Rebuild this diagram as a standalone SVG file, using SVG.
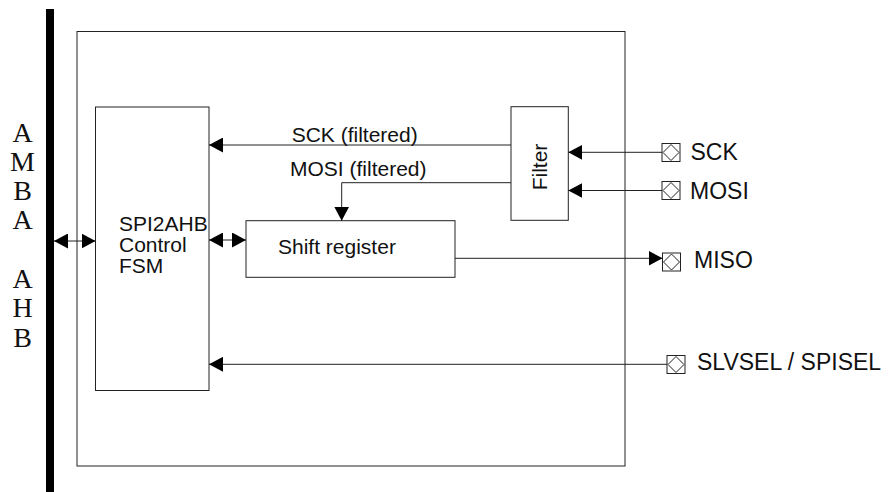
<svg xmlns="http://www.w3.org/2000/svg" width="890" height="492" viewBox="0 0 890 492">
<style>
.box{fill:#fff;stroke:#222;stroke-width:1}
.ln{fill:none;stroke:#222;stroke-width:1}
.t{font-family:"Liberation Sans",Arial,Helvetica,sans-serif;font-size:21px;fill:#111}
.tr{font-family:"Liberation Sans",Arial,Helvetica,sans-serif;font-size:23px;fill:#111}
.ts{font-family:"Liberation Serif","Times New Roman",serif;font-size:28px;fill:#111;text-anchor:middle}
.pad{fill:#fff;stroke:#222;stroke-width:1}
</style>
<defs>
<marker id="ah" markerUnits="userSpaceOnUse" markerWidth="14" markerHeight="15" viewBox="0 0 14 15" refX="14" refY="7.5" orient="auto-start-reverse">
<path d="M0,0 L14,7.5 L0,15 z" fill="#000"/>
</marker>
<g id="padshape">
<rect class="pad" x="0" y="0" width="18" height="18"/>
<path class="ln" d="M9,1 L17,9 L9,17 L1,9 z"/>
</g>
</defs>
<rect width="890" height="492" fill="#fff"/>

<g id="amba-bus">
<rect x="46" y="9" width="8" height="483" fill="#000"/>
<text class="ts" x="22.5" y="141.7">A</text>
<text class="ts" x="22.5" y="170.7">M</text>
<text class="ts" x="22.5" y="200">B</text>
<text class="ts" x="22.5" y="229.3">A</text>
<text class="ts" x="22.5" y="288.3">A</text>
<text class="ts" x="22.5" y="317.3">H</text>
<text class="ts" x="22.5" y="346.7">B</text>
</g>

<g id="core">
<rect class="box" x="77" y="31.5" width="548" height="434.5"/>
</g>

<g id="fsm">
<rect class="box" x="95.5" y="107" width="113.5" height="283.5"/>
<text class="t" x="119" y="231">SPI2AHB</text>
<text class="t" x="119" y="252">Control</text>
<text class="t" x="119" y="273">FSM</text>
</g>

<g id="shift-register">
<rect class="box" x="246" y="220.7" width="209" height="56.6"/>
<text class="t" x="278" y="254">Shift register</text>
</g>

<g id="filter">
<rect class="box" x="511" y="106.7" width="57.3" height="113.6"/>
<text class="t" transform="translate(547,167) rotate(-90)" text-anchor="middle">Filter</text>
</g>

<g id="pad-sck">
<use href="#padshape" x="662" y="143.5"/>
<text class="tr" x="690.5" y="159.5">SCK</text>
</g>
<g id="pad-mosi">
<use href="#padshape" x="662" y="181.5"/>
<text class="tr" x="690" y="198.5">MOSI</text>
</g>
<g id="pad-miso">
<use href="#padshape" x="662.5" y="253"/>
<text class="tr" x="694" y="267.5">MISO</text>
</g>
<g id="pad-slvsel">
<use href="#padshape" x="667" y="355.5"/>
<text class="tr" x="697" y="369.5">SLVSEL / SPISEL</text>
</g>

<g id="connectors">
<line class="ln" x1="511" y1="145" x2="209" y2="145" marker-end="url(#ah)"/>
<text class="t" x="291.7" y="142.3">SCK (filtered)</text>
<polyline class="ln" points="511,182.7 341.7,182.7 341.7,220.7" marker-end="url(#ah)"/>
<text class="t" x="290" y="175.5">MOSI (filtered)</text>
<line class="ln" x1="54" y1="241" x2="95.5" y2="241" marker-start="url(#ah)" marker-end="url(#ah)"/>
<line class="ln" x1="209" y1="240" x2="246" y2="240" marker-start="url(#ah)" marker-end="url(#ah)"/>
<line class="ln" x1="455" y1="258.3" x2="662.5" y2="258.3" marker-end="url(#ah)"/>
<line class="ln" x1="662" y1="152.3" x2="568.3" y2="152.3" marker-end="url(#ah)"/>
<line class="ln" x1="662" y1="190.5" x2="568.3" y2="190.5" marker-end="url(#ah)"/>
<line class="ln" x1="667" y1="364.3" x2="209" y2="364.3" marker-end="url(#ah)"/>
</g>
</svg>
